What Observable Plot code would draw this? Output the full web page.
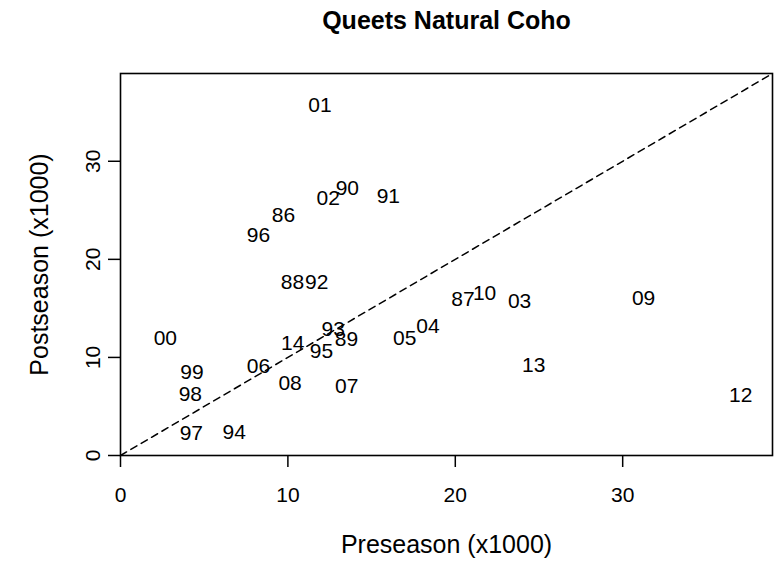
<!DOCTYPE html>
<html>
<head>
<meta charset="utf-8">
<script src="https://cdn.jsdelivr.net/npm/d3@7"></script>
<script src="https://cdn.jsdelivr.net/npm/@observablehq/plot@0.6"></script>
<style>
  html, body { margin: 0; padding: 0; background: #fff; }
  #chart { width: 782px; height: 562px; }
</style>
</head>
<body>
<div id="chart"></div>
<script>
// ---- Data (thousands of fish) ----
const years = ["86","87","88","89","90","91","92","93","94","95","96","97","98","99",
               "00","01","02","03","04","05","06","07","08","09","10","12","13","14"];
const preseason = [9.73,20.46,10.27,13.50,13.55,16.00,11.72,12.71,6.79,12.01,8.24,4.23,4.17,4.27,
                   2.68,11.92,12.41,23.84,18.37,16.98,8.24,13.51,10.13,31.25,21.75,37.05,24.69,10.29];
const postseason = [24.49,15.92,17.71,11.87,27.20,26.46,17.65,12.86,2.41,10.67,22.50,2.24,6.26,8.53,
                    12.00,35.70,26.25,15.74,13.22,11.94,9.11,7.10,7.41,16.00,16.53,6.15,9.21,11.49];
const tickValues = [0, 10, 20, 30];
const axisLimits = [0, 38.95];
const titleText = "Queets Natural Coho";
const xLabel = "Preseason (x1000)";
const yLabel = "Postseason (x1000)";

const points = years.map((yr, i) => ({year: yr, pre: preseason[i], post: postseason[i]}));
const diagonal = axisLimits.map(v => ({pre: v, post: v}));

const font = "'Liberation Sans', Arial, Helvetica, sans-serif";

const chart = Plot.plot({
  width: 782,
  height: 562,
  marginLeft: 120,
  marginRight: 10,
  marginTop: 73,
  marginBottom: 107,
  style: {fontFamily: font, fontSize: "21px", color: "black", background: "white", overflow: "visible"},
  x: {domain: axisLimits, nice: false},
  y: {domain: axisLimits, nice: false},
  marks: [
    Plot.line(diagonal, {x: "pre", y: "post", stroke: "black", strokeWidth: 1.5, strokeDasharray: "7,5"}),
    Plot.text(points, {x: "pre", y: "post", text: "year", fontSize: 21, fill: "black",
                       textAnchor: "middle", lineAnchor: "middle"}),
    Plot.frame({stroke: "black", strokeWidth: 1.6}),
    Plot.axisX({ticks: tickValues, tickSize: 12, tickPadding: 20, fontSize: 21,
                strokeWidth: 1.5, label: null, tickFormat: d => String(d)}),
    Plot.axisY({ticks: tickValues, tickSize: 12, tickPadding: 9, tickRotate: -90, fontSize: 21,
                strokeWidth: 1.5, label: null, tickFormat: d => String(d)}),
    Plot.text([xLabel], {frameAnchor: "bottom", dy: 97, text: d => d, fontSize: 25,
                         textAnchor: "middle", lineAnchor: "bottom"}),
    Plot.text([yLabel], {frameAnchor: "left", dx: -73, rotate: -90, text: d => d, fontSize: 25,
                         textAnchor: "middle", lineAnchor: "bottom"}),
    Plot.text([titleText], {frameAnchor: "top", dy: -45, text: d => d, fontSize: 25,
                            fontWeight: "bold", textAnchor: "middle", lineAnchor: "bottom"})
  ]
});
document.getElementById("chart").appendChild(chart);
</script>
</body>
</html>
